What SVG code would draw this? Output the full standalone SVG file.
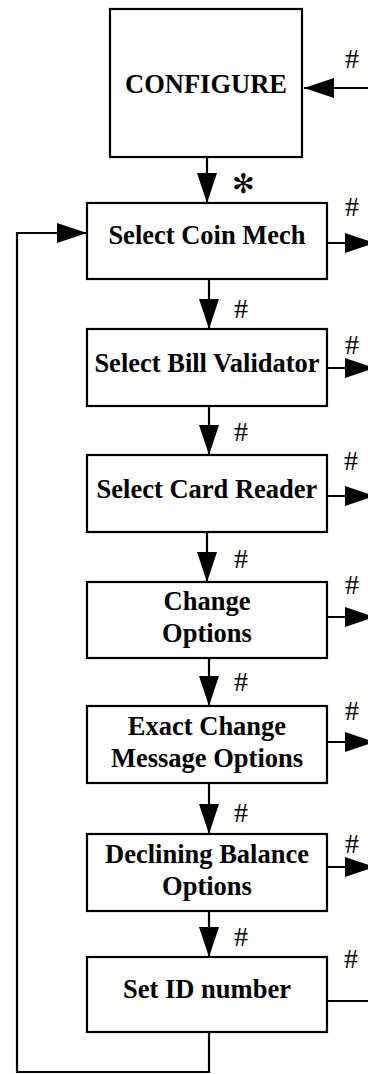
<svg xmlns="http://www.w3.org/2000/svg" width="368" height="1074" viewBox="0 0 368 1074">
<style>
.box{fill:#fff;stroke:#000;stroke-width:2.2}
.lbl{font-family:"Liberation Serif","Times New Roman",serif;font-weight:bold;font-size:26.5px;text-anchor:middle;fill:#000}
.hash{font-family:"Liberation Serif","Times New Roman",serif;font-size:28px;fill:#000}
.ln{fill:none;stroke:#000;stroke-width:2.2}
</style>
<defs>
<marker id="ah" markerUnits="userSpaceOnUse" markerWidth="31" markerHeight="21" refX="30" refY="10" orient="auto">
<path d="M0,0 L30,10 L0,20 z" fill="#000"/>
</marker>
</defs>
<rect width="368" height="1074" fill="#fff"/>
<g id="connectors">
<line class="ln" x1="368" y1="88" x2="304" y2="88" marker-end="url(#ah)"/>
<line class="ln" x1="207" y1="157" x2="207" y2="203" marker-end="url(#ah)"/>
<line class="ln" x1="209" y1="279" x2="209" y2="329" marker-end="url(#ah)"/>
<line class="ln" x1="209" y1="406" x2="209" y2="455" marker-end="url(#ah)"/>
<line class="ln" x1="207" y1="532" x2="207" y2="582" marker-end="url(#ah)"/>
<line class="ln" x1="209" y1="658" x2="209" y2="706" marker-end="url(#ah)"/>
<line class="ln" x1="209" y1="783" x2="209" y2="834" marker-end="url(#ah)"/>
<line class="ln" x1="209" y1="911" x2="209" y2="957" marker-end="url(#ah)"/>
<line class="ln" x1="327" y1="243" x2="375" y2="243" marker-end="url(#ah)"/>
<line class="ln" x1="327" y1="368" x2="375" y2="368" marker-end="url(#ah)"/>
<line class="ln" x1="327" y1="496" x2="375" y2="496" marker-end="url(#ah)"/>
<line class="ln" x1="327" y1="617" x2="375" y2="617" marker-end="url(#ah)"/>
<line class="ln" x1="327" y1="742" x2="375" y2="742" marker-end="url(#ah)"/>
<line class="ln" x1="327" y1="867" x2="375" y2="867" marker-end="url(#ah)"/>
<line class="ln" x1="327" y1="1001" x2="368" y2="1001"/>
<path class="ln" d="M209,1032 V1072 H17 V233 H87" marker-end="url(#ah)"/>
<text class="hash" x="345" y="68">#</text>
<text x="232" y="193" font-family="DejaVu Sans,sans-serif" font-size="27" font-weight="bold">✻</text>
<text class="hash" x="345" y="216">#</text>
<text class="hash" x="234" y="318">#</text>
<text class="hash" x="345" y="354">#</text>
<text class="hash" x="234" y="441">#</text>
<text class="hash" x="344" y="470">#</text>
<text class="hash" x="234" y="568">#</text>
<text class="hash" x="345" y="594">#</text>
<text class="hash" x="234" y="691">#</text>
<text class="hash" x="345" y="720">#</text>
<text class="hash" x="234" y="822">#</text>
<text class="hash" x="345" y="853">#</text>
<text class="hash" x="234" y="946">#</text>
<text class="hash" x="344" y="968">#</text>
</g>
<g id="configure"><rect class="box" x="110" y="9" width="192" height="148"/><text class="lbl" x="206" y="93">CONFIGURE</text></g>
<g id="coin"><rect class="box" x="87" y="203" width="240" height="76"/><text class="lbl" x="207" y="244">Select Coin Mech</text></g>
<g id="bill"><rect class="box" x="87" y="329" width="240" height="77"/><text class="lbl" x="207" y="372">Select Bill Validator</text></g>
<g id="card"><rect class="box" x="87" y="455" width="240" height="77"/><text class="lbl" x="207" y="498">Select Card Reader</text></g>
<g id="change"><rect class="box" x="87" y="582" width="240" height="76"/><text class="lbl" x="207" y="610">Change</text><text class="lbl" x="207" y="642">Options</text></g>
<g id="exact"><rect class="box" x="87" y="706" width="240" height="77"/><text class="lbl" x="207" y="735">Exact Change</text><text class="lbl" x="207" y="767">Message Options</text></g>
<g id="declining"><rect class="box" x="87" y="834" width="240" height="77"/><text class="lbl" x="207" y="863">Declining Balance</text><text class="lbl" x="207" y="895">Options</text></g>
<g id="setid"><rect class="box" x="87" y="957" width="240" height="75"/><text class="lbl" x="207" y="998">Set ID number</text></g>
</svg>
